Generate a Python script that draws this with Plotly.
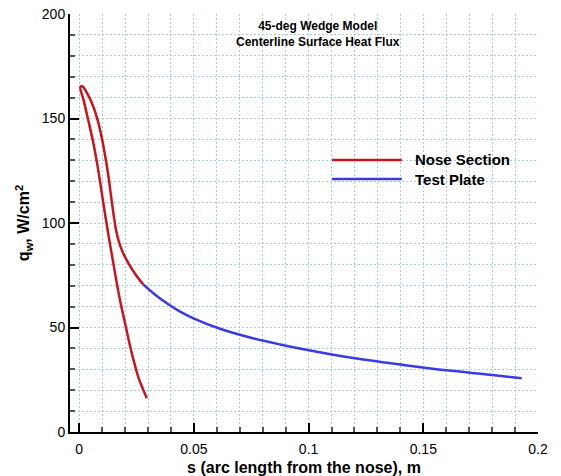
import plotly.graph_objects as go

# Nose section: traced from the lower end of the left branch, up to the stagnation peak, then down the right branch
nose_s = [0.0295, 0.0260, 0.0237, 0.0220, 0.0200, 0.0180, 0.0164, 0.0150, 0.0128, 0.0106,
          0.0085, 0.0062, 0.0040, 0.0019, 0.0005,
          0.0015, 0.0030, 0.0055, 0.0080, 0.0100, 0.0115, 0.0128, 0.0140, 0.0150, 0.0160,
          0.0172, 0.0190, 0.0215, 0.0245, 0.0280]
nose_q = [16.1, 25.5, 34.4, 42.0, 52.0, 62.0, 71.1, 80.0, 94.0, 109.0,
          124.0, 138.1, 149.0, 158.9, 165.0,
          165.3, 163.0, 157.5, 149.5, 140.0, 131.0, 122.0, 112.0, 104.0, 97.0,
          91.5, 86.0, 80.7, 75.5, 70.5]

plate_s = [0.0280, 0.0330, 0.0382, 0.0440, 0.0498, 0.0614, 0.0745, 0.0876, 0.1007,
           0.1195, 0.1413, 0.1602, 0.1791, 0.1929]
plate_q = [70.5, 65.8, 61.6, 57.6, 54.4, 49.4, 45.2, 41.9, 39.0,
           35.4, 32.1, 29.5, 27.4, 25.7]

series_names = ["Nose Section", "Test Plate"]
series_colors = ["#c8141e", "#3a3ae6"]

x_ticks = [0, 0.05, 0.1, 0.15, 0.2]
x_ticklabels = ["0", "0.05", "0.1", "0.15", "0.2"]
y_ticks = [0, 50, 100, 150, 200]
y_ticklabels = ["0", "50", "100", "150", "200"]

FONT = "Liberation Sans, Arial, Helvetica, sans-serif"
GRID = "#a6cedb"

fig = go.Figure()
fig.add_trace(go.Scatter(x=nose_s, y=nose_q, mode="lines", name=series_names[0],
                         line=dict(color=series_colors[0], width=2.5, shape="spline", smoothing=0.8),
                         showlegend=False))
fig.add_trace(go.Scatter(x=plate_s, y=plate_q, mode="lines", name=series_names[1],
                         line=dict(color=series_colors[1], width=2.5, shape="spline", smoothing=1),
                         showlegend=False))

axis_common = dict(
    showline=True, linecolor="black", linewidth=2,
    ticks="inside", ticklen=9, tickwidth=2, tickcolor="black",
    showgrid=True, gridcolor=GRID, gridwidth=1, griddash="2px,2px",
    zeroline=False, mirror=False, automargin=False, layer="above traces",
    tickfont=dict(family=FONT, size=14, color="black"),
)

fig.update_xaxes(
    range=[-0.004, 0.2], tickvals=x_ticks, ticktext=x_ticklabels, ticklabelstandoff=3,
    minor=dict(dtick=0.01, tick0=0, ticks="inside", ticklen=5, tickwidth=2, tickcolor="#555555",
               showgrid=True, gridcolor=GRID, gridwidth=1, griddash="2px,2px"),
    title=dict(text="<b>s (arc length from the nose), m</b>",
               font=dict(family=FONT, size=16, color="black"), standoff=6),
    **axis_common,
)
fig.update_yaxes(
    range=[0, 200], tickvals=y_ticks, ticktext=y_ticklabels,
    minor=dict(dtick=10, tick0=0, ticks="inside", ticklen=5, tickwidth=2, tickcolor="#555555",
               showgrid=True, gridcolor=GRID, gridwidth=1, griddash="2px,2px"),
    title=dict(text="<b>q<sub>w</sub>, W/cm<sup>2</sup></b>",
               font=dict(family=FONT, size=16, color="black"), standoff=8),
    **axis_common,
)

# Title annotation
fig.add_annotation(xref="paper", yref="paper", x=0.53, y=0.952, xanchor="center", yanchor="middle",
                   text="<b>45-deg Wedge Model</b><br><b>Centerline Surface Heat Flux</b>",
                   showarrow=False, font=dict(family=FONT, size=12, color="black"), align="center")

# Custom legend (long line samples)
leg_y = [0.651, 0.605]
for name, color, yy in zip(series_names, series_colors, leg_y):
    fig.add_shape(type="line", xref="paper", yref="paper", x0=0.560, x1=0.709, y0=yy, y1=yy,
                  line=dict(color=color, width=2.5))
    fig.add_annotation(xref="paper", yref="paper", x=0.732, y=yy, xanchor="left", yanchor="middle",
                       text="<b>" + name + "</b>", showarrow=False,
                       font=dict(family=FONT, size=15, color="black"))

fig.update_layout(
    width=561, height=476,
    margin=dict(l=70, r=23, t=14, b=44),
    paper_bgcolor="white", plot_bgcolor="white",
    font=dict(family=FONT, color="black"),
)

fig.write_html("out.html")
